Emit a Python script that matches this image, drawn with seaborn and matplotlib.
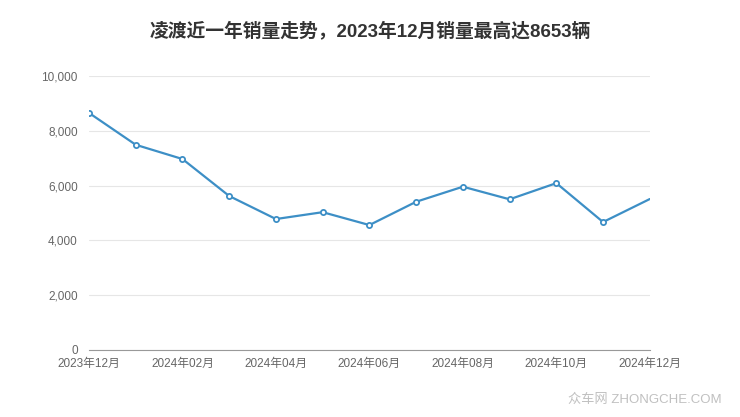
import numpy as np
import pandas as pd
import matplotlib
matplotlib.use("Agg")
from matplotlib import pyplot as plt
import seaborn as sns

months = ["2023年12月", "2024年01月", "2024年02月", "2024年03月", "2024年04月",
          "2024年05月", "2024年06月", "2024年07月", "2024年08月", "2024年09月",
          "2024年10月", "2024年11月", "2024年12月"]
sales = [8653, 7490, 6970, 5620, 4780, 5030, 4560, 5410, 5960, 5500, 6090, 4670, 5510]
yticks = [0, 2000, 4000, 6000, 8000, 10000]

sns.set_style("white")
plt.rcParams['font.family'] = ['Liberation Sans', 'Noto Sans CJK SC', 'DejaVu Sans']

df = pd.DataFrame({"idx": np.arange(len(months)), "month": months, "sales": sales})

fig = plt.figure(figsize=(7.4, 4.17), dpi=100)
ax = fig.add_axes([0.1203, 0.1607, 0.7578, 0.657])

line_color = "#3d8fc6"
sns.lineplot(data=df, x="idx", y="sales", color=line_color, linewidth=1.6, ax=ax)
pts = df.iloc[:-1]
ax.scatter(pts["idx"], pts["sales"], s=14, facecolor="white", edgecolor=line_color,
           linewidth=1.3, zorder=3)

ax.set_xlim(0, len(months) - 1)
ax.set_ylim(0, 10000)
ax.set_yticks(yticks)
ax.set_yticklabels([f"{v:,}" for v in yticks])
ax.set_xticks(df["idx"][::2])
ax.set_xticklabels(df["month"][::2])
ax.grid(axis="y", color="#e6e6e6", linewidth=0.8)
ax.set_axisbelow(True)
for s in ["top", "right", "left"]:
    ax.spines[s].set_visible(False)
ax.spines["bottom"].set_color("#999999")
ax.tick_params(axis="x", length=4, color="#999999", labelsize=8.5, labelcolor="#666666", pad=2)
ax.tick_params(axis="y", length=0, labelsize=8.5, labelcolor="#666666", pad=8)
ax.set_xlabel("")
ax.set_ylabel("")

fig.text(0.5, 0.925, "凌渡近一年销量走势，2023年12月销量最高达8653辆", ha="center", va="center",
         fontsize=13.5, fontweight="bold", color="#333333")
fig.text(0.975, 0.04, "众车网 ZHONGCHE.COM", ha="right", va="center", fontsize=9.5,
         color="#c0c0c0")

fig.savefig("out.png", dpi=100)
